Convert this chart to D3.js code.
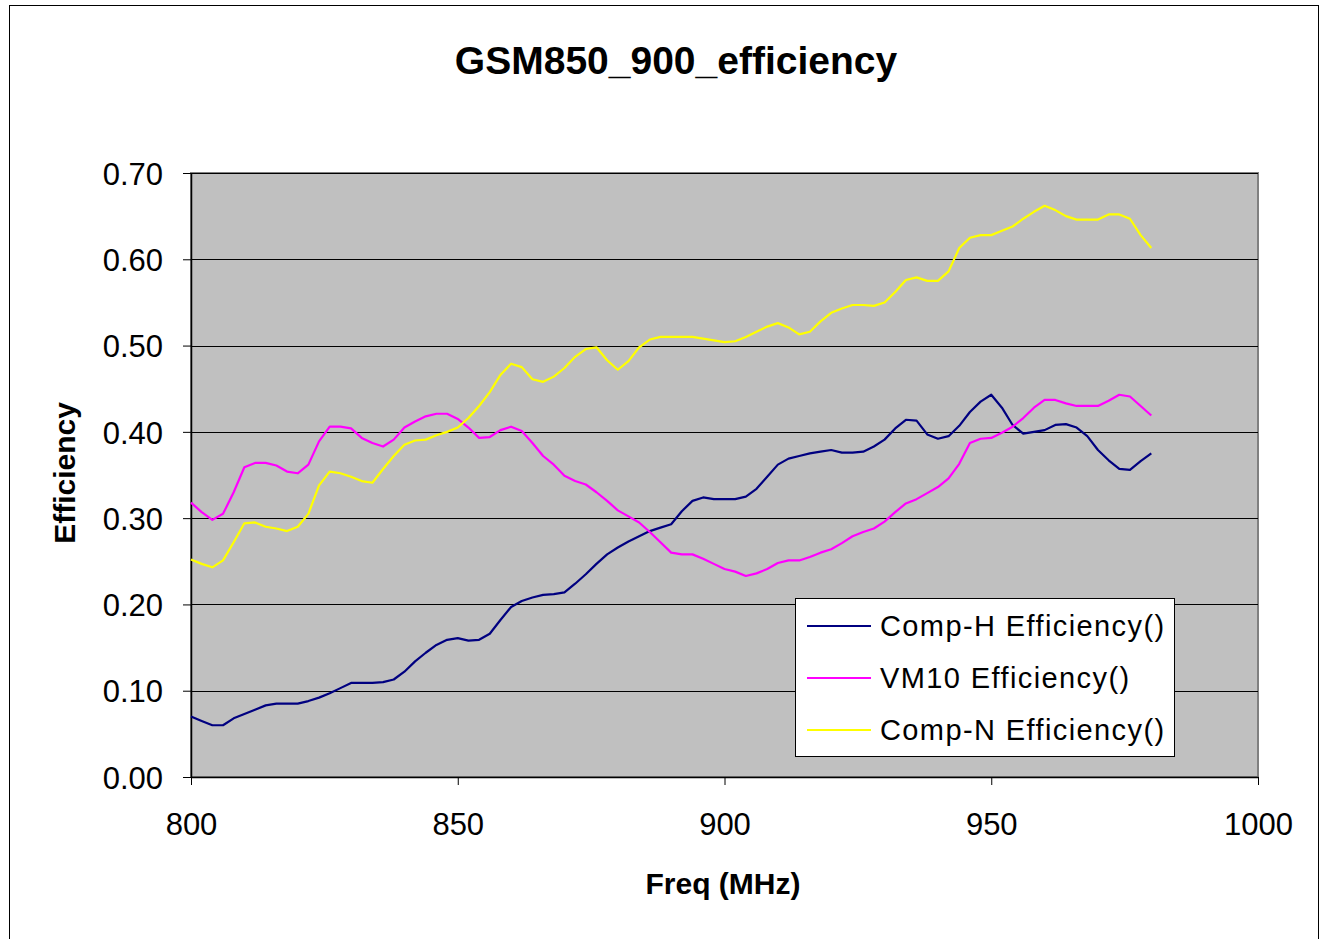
<!DOCTYPE html>
<html>
<head>
<meta charset="utf-8">
<script src="https://cdn.jsdelivr.net/npm/d3@7"></script>
<style>
  body { margin: 0; background: #fff; }
  svg text { font-family: "Liberation Sans", Arial, sans-serif; }
</style>
</head>
<body>
<script>
// frequencies, 800..980 MHz in 2 MHz steps
const freqs = d3.range(800, 981, 2);

const compH = [
  0.070, 0.065, 0.060, 0.060, 0.068, 0.073, 0.078, 0.083, 0.085, 0.085,
  0.085, 0.088, 0.092, 0.097, 0.103, 0.109, 0.109, 0.109, 0.110, 0.113,
  0.122, 0.134, 0.144, 0.153, 0.159, 0.161, 0.158, 0.159, 0.166, 0.182,
  0.197, 0.204, 0.208, 0.211, 0.212, 0.214, 0.224, 0.235, 0.247, 0.258,
  0.266, 0.273, 0.279, 0.285, 0.289, 0.293, 0.308, 0.320, 0.324, 0.322,
  0.322, 0.322, 0.325, 0.334, 0.348, 0.362, 0.369, 0.372, 0.375, 0.377,
  0.379, 0.376, 0.376, 0.377, 0.383, 0.391, 0.404, 0.414, 0.413, 0.397,
  0.392, 0.395, 0.407, 0.423, 0.435, 0.443, 0.428, 0.408, 0.398, 0.400,
  0.402, 0.408, 0.409, 0.405, 0.395, 0.379, 0.367, 0.357, 0.356, 0.366,
  0.375
];

const vm10 = [
  0.318, 0.307, 0.298, 0.305, 0.330, 0.359, 0.364, 0.364, 0.361, 0.354,
  0.352, 0.362, 0.389, 0.406, 0.406, 0.404, 0.393, 0.387, 0.383, 0.391,
  0.405, 0.412, 0.418, 0.421, 0.421, 0.415, 0.405, 0.393, 0.394, 0.402,
  0.406, 0.401, 0.387, 0.372, 0.362, 0.349, 0.343, 0.339, 0.330, 0.320,
  0.309, 0.302, 0.295, 0.284, 0.272, 0.260, 0.258, 0.258, 0.253, 0.247,
  0.241, 0.238, 0.233, 0.236, 0.241, 0.248, 0.251, 0.251, 0.255, 0.260,
  0.264, 0.271, 0.279, 0.284, 0.288, 0.296, 0.307, 0.317, 0.322, 0.329,
  0.336, 0.346, 0.363, 0.387, 0.392, 0.393, 0.399, 0.406, 0.416, 0.428,
  0.437, 0.437, 0.433, 0.430, 0.430, 0.430, 0.436, 0.443, 0.441, 0.430,
  0.419
];

const compN = [
  0.252, 0.247, 0.243, 0.251, 0.272, 0.294, 0.295, 0.290, 0.288, 0.285,
  0.290, 0.305, 0.338, 0.354, 0.352, 0.348, 0.343, 0.341, 0.357, 0.372,
  0.385, 0.390, 0.391, 0.396, 0.400, 0.405, 0.416, 0.430, 0.446, 0.466,
  0.479, 0.475, 0.461, 0.458, 0.464, 0.474, 0.487, 0.496, 0.498, 0.483,
  0.472, 0.482, 0.498, 0.507, 0.510, 0.510, 0.510, 0.510, 0.508, 0.506,
  0.504, 0.505, 0.510, 0.516, 0.522, 0.526, 0.521, 0.513, 0.516, 0.528,
  0.538, 0.543, 0.547, 0.547, 0.546, 0.550, 0.562, 0.576, 0.579, 0.575,
  0.575, 0.586, 0.613, 0.625, 0.628, 0.628, 0.633, 0.638, 0.647, 0.655,
  0.662, 0.657, 0.650, 0.646, 0.646, 0.646, 0.652, 0.652, 0.647, 0.628,
  0.613
];

const seriesNames = ['Comp-H Efficiency()', 'VM10 Efficiency()', 'Comp-N Efficiency()'];
const seriesColors = ['#000080', '#ff00ff', '#ffff00'];
const xTicks = [800, 850, 900, 950, 1000];
const yTicks = [0, 0.1, 0.2, 0.3, 0.4, 0.5, 0.6, 0.7];

const w = 1320, h = 939;
const plot = {left: 191, right: 1258, top: 173, bottom: 777};

const svg = d3.select('body').append('svg')
  .attr('width', w)
  .attr('height', h);

svg.append('rect')
  .attr('x', 9.5).attr('y', 5.5)
  .attr('width', 1309).attr('height', 960)
  .attr('fill', '#fff')
  .attr('stroke', '#000')
  .attr('stroke-width', 1);

const xScale = d3.scaleLinear().domain([800, 1000]).range([plot.left, plot.right]);
const yScale = d3.scaleLinear().domain([0, 0.7]).range([plot.bottom, plot.top]);

// plot background
svg.append('rect')
  .attr('x', plot.left).attr('y', plot.top)
  .attr('width', plot.right - plot.left)
  .attr('height', plot.bottom - plot.top)
  .attr('fill', '#c0c0c0')
  .attr('stroke', '#808080')
  .attr('stroke-width', 2);

// gridlines
svg.append('g')
  .selectAll('line')
  .data(yTicks.filter(d => d > 0))
  .enter()
  .append('line')
  .attr('x1', plot.left).attr('x2', plot.right)
  .attr('y1', d => Math.round(yScale(d)) + 0.5)
  .attr('y2', d => Math.round(yScale(d)) + 0.5)
  .attr('stroke', '#000')
  .attr('stroke-width', 1);

const yAxis = d3.axisLeft(yScale)
  .tickValues(yTicks)
  .tickFormat(d3.format('.2f'))
  .tickSize(8)
  .tickSizeOuter(0)
  .tickPadding(20);
const gy = svg.append('g')
  .attr('transform', 'translate(' + plot.left + ',0)')
  .call(yAxis);

const xAxis = d3.axisBottom(xScale)
  .tickValues(xTicks)
  .tickFormat(d3.format('d'))
  .tickSize(8)
  .tickSizeOuter(0)
  .tickPadding(22);
const gx = svg.append('g')
  .attr('transform', 'translate(0,' + plot.bottom + ')')
  .call(xAxis);

[gx, gy].forEach(g => {
  g.select('.domain').attr('stroke', '#000').attr('stroke-width', 1.5);
  g.selectAll('.tick line').attr('stroke', '#000');
  g.selectAll('.tick text')
    .attr('font-family', '"Liberation Sans", Arial, sans-serif')
    .attr('font-size', 31)
    .attr('fill', '#000');
});
gy.selectAll('.tick text').attr('dy', '0.36em');
gx.selectAll('.tick text').attr('dy', '0.9em');

// lines
const line = d3.line()
  .x((d, i) => xScale(freqs[i]))
  .y(d => yScale(d));

[compH, vm10, compN].forEach((s, i) => {
  svg.append('path')
    .datum(s)
    .attr('d', line)
    .attr('fill', 'none')
    .attr('stroke', seriesColors[i])
    .attr('stroke-width', 2.2)
    .attr('stroke-linejoin', 'round');
});

// titles
svg.append('text')
  .text('GSM850_900_efficiency')
  .attr('x', 676).attr('y', 74)
  .attr('text-anchor', 'middle')
  .attr('font-weight', 'bold')
  .attr('font-size', 39);

svg.append('text')
  .text('Freq (MHz)')
  .attr('x', 723).attr('y', 894)
  .attr('text-anchor', 'middle')
  .attr('font-weight', 'bold')
  .attr('font-size', 30);

svg.append('text')
  .text('Efficiency')
  .attr('transform', 'translate(75,473)rotate(-90)')
  .attr('text-anchor', 'middle')
  .attr('font-weight', 'bold')
  .attr('font-size', 30);

// legend
const legend = svg.append('g').attr('transform', 'translate(795,598)');
legend.append('rect')
  .attr('x', 0.5).attr('y', 0.5)
  .attr('width', 379).attr('height', 158)
  .attr('fill', '#fff')
  .attr('stroke', '#000');

seriesNames.forEach((name, i) => {
  const yy = 28 + i * 52;
  legend.append('line')
    .attr('x1', 12).attr('x2', 76)
    .attr('y1', yy).attr('y2', yy)
    .attr('stroke', seriesColors[i])
    .attr('stroke-width', 2.2);
  legend.append('text')
    .text(name)
    .attr('x', 85).attr('y', yy + 10)
    .attr('font-size', 29)
    .attr('letter-spacing', 1.4);
});
</script>
</body>
</html>
